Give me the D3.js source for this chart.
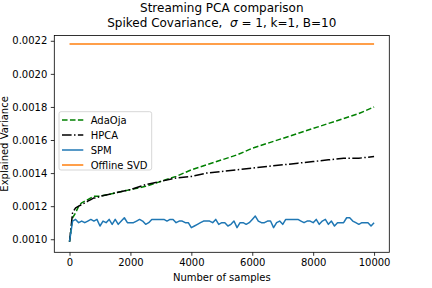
<!DOCTYPE html>
<html>
<head>
<meta charset="utf-8">
<script src="https://cdn.jsdelivr.net/npm/d3@7"></script>
<style>
  body { margin: 0; background: #fff; }
  svg text { font-family: "DejaVu Sans", sans-serif; fill: #000; }
</style>
</head>
<body>
<script>
// samples axis for SPM (every 100 samples)
const spmX = d3.range(0, 10001, 100);
const spmY = [
  0.000985, 0.00111, 0.00112, 0.00110, 0.00111, 0.00110, 0.00111, 0.00112, 0.00111, 0.00112,
  0.00108, 0.00111, 0.00110, 0.00112, 0.00109, 0.00112, 0.00109, 0.00111, 0.00113, 0.00110,
  0.00110, 0.00110, 0.00111, 0.00112, 0.00111, 0.00109, 0.00110, 0.00112, 0.00112, 0.00112,
  0.00112, 0.00112, 0.00111, 0.00112, 0.00112, 0.00110, 0.00111, 0.00111, 0.00110, 0.00110,
  0.00107, 0.00108, 0.00109, 0.00110, 0.00111, 0.00111, 0.00111, 0.00110, 0.00112, 0.00109,
  0.00110, 0.00110, 0.00108, 0.00109, 0.00111, 0.00107, 0.00110, 0.00110, 0.00109, 0.00110,
  0.00112, 0.00114, 0.00111, 0.00110, 0.00110, 0.00111, 0.00111, 0.00107, 0.00110, 0.00111,
  0.00109, 0.00112, 0.00112, 0.00112, 0.00112, 0.00112, 0.00111, 0.00110, 0.00111, 0.00111,
  0.00110, 0.00112, 0.00109, 0.00111, 0.00112, 0.00109, 0.00111, 0.00108, 0.00110, 0.00110,
  0.00110, 0.00113, 0.00113, 0.00111, 0.00110, 0.00109, 0.00110, 0.00110, 0.00110, 0.00108,
  0.00110
];

// AdaOja and HPCA read at a coarser grid
const coarseX = [0, 100, 200, 300, 400, 500, 600, 700, 800, 900, 1000,
  1500, 2000, 2500, 3000, 3500, 4000, 4500, 5000, 5500, 6000,
  6500, 7000, 7500, 8000, 8500, 9000, 9500, 10000];
const adaojaY = [0.000985, 0.00113, 0.00116, 0.00120, 0.00122, 0.00123, 0.00124, 0.00125, 0.00126, 0.00126, 0.00126,
  0.00128, 0.00130, 0.00132, 0.00135, 0.00138, 0.00142, 0.00145, 0.00148, 0.00151, 0.00155,
  0.00158, 0.00161, 0.00164, 0.00167, 0.00170, 0.00173, 0.00176, 0.00180];
const hpcaY = [0.000985, 0.00116, 0.00119, 0.00120, 0.00121, 0.00122, 0.00123, 0.00124, 0.00125, 0.00125, 0.00126,
  0.00128, 0.00130, 0.00133, 0.00135, 0.00137, 0.00138, 0.00140, 0.00141, 0.00142, 0.00143,
  0.00144, 0.00145, 0.00146, 0.00147, 0.00148, 0.00149, 0.00149, 0.00150];

const svdX = [0, 10000];
const svdY = [0.00218, 0.00218];

const xTicks = [0, 2000, 4000, 6000, 8000, 10000];
const yTicks = [0.0010, 0.0012, 0.0014, 0.0016, 0.0018, 0.0020, 0.0022];

const series = [
  { name: "AdaOja", xs: coarseX, ys: adaojaY, color: "#008000", dash: "5.55,2.4" },
  { name: "HPCA", xs: coarseX, ys: hpcaY, color: "#000000", dash: "9.6,2.4,1.5,2.4" },
  { name: "SPM", xs: spmX, ys: spmY, color: "#1f77b4", dash: null },
  { name: "Offline SVD", xs: svdX, ys: svdY, color: "#ff7f0e", dash: null }
];

const width = 432, height = 288;
const mLeft = 54.3, mRight = 389.3, mTop = 35.5, mBottom = 252.3;

const svg = d3.select("body").append("svg")
  .attr("width", width)
  .attr("height", height);

const x = d3.scaleLinear().domain([-500, 10500]).range([mLeft, mRight]);
const y = d3.scaleLinear().domain([0.000921, 0.002232]).range([mBottom, mTop]);

// lines
const line = d3.line()
  .x(d => x(d[0]))
  .y(d => y(d[1]));

const plot = svg.append("g");
series.forEach(s => {
  plot.append("path")
    .datum(s.xs.map((v, i) => [v, s.ys[i]]))
    .attr("d", line)
    .attr("fill", "none")
    .attr("stroke", s.color)
    .attr("stroke-width", 1.5)
    .attr("stroke-dasharray", s.dash)
    .attr("stroke-linejoin", "round");
});

// axes
const xAxis = d3.axisBottom(x)
  .tickValues(xTicks)
  .tickSize(3.5)
  .tickPadding(3.5)
  .tickFormat(d3.format("d"));
svg.append("g")
  .attr("transform", `translate(0, ${mBottom})`)
  .call(xAxis)
  .call(g => g.select(".domain").remove());

const yAxis = d3.axisLeft(y)
  .tickValues(yTicks)
  .tickSize(3.5)
  .tickPadding(3.5)
  .tickFormat(d3.format(".4f"));
svg.append("g")
  .attr("transform", `translate(${mLeft}, 0)`)
  .call(yAxis)
  .call(g => g.select(".domain").remove());

svg.selectAll(".tick line").attr("stroke", "#000").attr("stroke-width", 0.8);
svg.selectAll(".tick text")
  .attr("font-size", 10)
  .attr("font-family", "DejaVu Sans")
  .attr("fill", "#000");

// frame
svg.append("rect")
  .attr("x", mLeft).attr("y", mTop)
  .attr("width", mRight - mLeft).attr("height", mBottom - mTop)
  .attr("fill", "none")
  .attr("stroke", "#000")
  .attr("stroke-width", 0.8);

// labels
svg.append("text")
  .attr("x", (mLeft + mRight) / 2).attr("y", 281)
  .attr("text-anchor", "middle")
  .attr("font-size", 10)
  .text("Number of samples");

svg.append("text")
  .attr("transform", `translate(0, ${(mTop + mBottom) / 2}) rotate(-90)`)
  .attr("text-anchor", "middle")
  .attr("dy", "0.75em")
  .attr("font-size", 10)
  .text("Explained Variance");

// title
const title = svg.append("text")
  .attr("text-anchor", "middle")
  .attr("font-size", 12);
title.append("tspan")
  .attr("x", (mLeft + mRight) / 2).attr("y", 12)
  .text("Streaming PCA comparison");
const t2 = title.append("tspan")
  .attr("x", (mLeft + mRight) / 2).attr("y", 27);
t2.append("tspan").text("Spiked Covariance,\u00a0\u00a0");
t2.append("tspan").attr("font-style", "italic").text("σ");
t2.append("tspan").text("\u00a0=\u00a01, k=1, B=10");

// legend
const lg = svg.append("g").attr("transform", "translate(59, 111.7)");
lg.append("rect")
  .attr("width", 92.7).attr("height", 58.3)
  .attr("rx", 2).attr("ry", 2)
  .attr("fill", "#fff").attr("fill-opacity", 0.8)
  .attr("stroke", "#cccccc").attr("stroke-width", 0.8);
series.forEach((s, i) => {
  const yy = 8.3 + i * 15;
  lg.append("line")
    .attr("x1", 3).attr("x2", 24.3)
    .attr("y1", yy).attr("y2", yy)
    .attr("stroke", s.color)
    .attr("stroke-width", 1.5)
    .attr("stroke-dasharray", s.dash);
  lg.append("text")
    .attr("x", 31.7).attr("y", yy + 3.6)
    .attr("font-size", 10)
    .text(s.name);
});
</script>
</body>
</html>
